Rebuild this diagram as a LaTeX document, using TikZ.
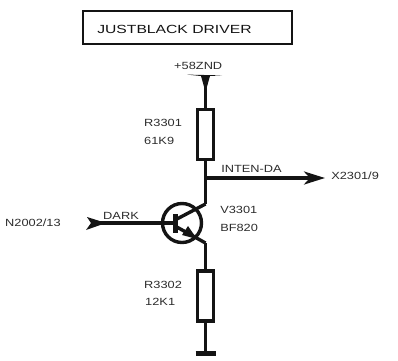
\documentclass[tikz,border=0pt]{standalone}
\usepackage{fontspec}
\setmainfont{Liberation Sans}
\usepackage{tikz}
\usetikzlibrary{calc,positioning,arrows.meta}
\definecolor{ink}{gray}{0.08}

\begin{document}
\begin{tikzpicture}[x=1pt,y=-1pt]

\tikzset{wire/.style={line width=3.4pt,color=ink},
lbl/.style={font=\fontsize{10.4}{12}\selectfont,color=ink!90,inner sep=0pt,anchor=west,xscale=1.23},
titlelbl/.style={font=\fontsize{11.8}{14}\selectfont,color=ink,inner sep=0pt,anchor=west,xscale=1.33},
resistor/.style={draw=ink,line width=3.4pt,fill=white,minimum width=15.5pt,minimum height=50pt,inner sep=0pt,shape=rectangle},
arrowwire/.style={wire,-{Stealth[length=21pt,width=13pt,inset=6pt]}}}

\useasboundingbox (0,0) rectangle (398,360);

% Title
\node (titlebox) at (187.5,27.5) [draw=ink,line width=2.5pt,minimum width=209pt,minimum height=33pt,inner sep=0pt] {};
\node[titlelbl] (title) at (97,29) {JUSTBLACK DRIVER};

% Supply
\coordinate (supply) at (205.5,75);
\node[lbl] (zndlabel) at (174,66) {+58ZND};
\fill[ink] (187,74.6) -- (222,75.4) -- (210,76) -- (205.5,92) -- (201,76) -- cycle;

% Resistors
\node (r1) at (205.5,134.5) [resistor] {};
\node (r2) at (205.5,296) [resistor] {};
\node[lbl] (r1name) at (144,123) {R3301};
\node[lbl] (r1val) at (144,141) {61K9};
\node[lbl] (r2name) at (144,285) {R3302};
\node[lbl] (r2val) at (145,302) {12K1};

% Transistor
\node (v1) at (182,223) [draw=ink,line width=3.4pt,circle,minimum size=39pt,inner sep=0pt] {};
\node[lbl] (v1name) at (220,210) {V3301};
\node[lbl] (v1type) at (220,228) {BF820};
\coordinate (base) at (175,223);
\coordinate (coll) at (205.5,204);
\coordinate (emit) at (205.5,243);
\draw[ink,line width=5pt] ($(base) + (0,-9)$) -- ($(base) + (0,10)$);
\draw[wire] (175,220) -- (coll);
\draw[wire] (175,226) -- (emit);
\fill[ink] (197,239) -- (182,235) -- (188,226) -- cycle;

% Edges
\draw[wire] (supply) -- (r1.north);
\draw[wire] (r1.south) -- (coll);
\draw[wire] (emit) -- (r2.north);
\coordinate (gnd) at (205.5,353.5);
\draw[wire] (r2.south) -- (gnd);
\draw[ink,line width=5pt] ($(gnd) + (-10,0)$) -- ($(gnd) + (10,0)$);

% Output
\coordinate (junction) at (205.5,178);
\coordinate (outend) at (325,178);
\node[lbl] (outlabel) at (331,176) {X2301/9};
\node[lbl] (intenlabel) at (221,169) {INTEN-DA};
\draw[arrowwire] (junction) -- (outend);

% Input
\node[lbl] (inlabel) at (5,223) {N2002/13};
\node[lbl] (darklabel) at (103,216) {DARK};
\coordinate (intip) at (100,223);
\draw[wire] (intip) -- (base);
\fill[ink] (87,217) -- (106,223) -- (86,230) -- (91,223) -- cycle;

\end{tikzpicture}
\end{document}
